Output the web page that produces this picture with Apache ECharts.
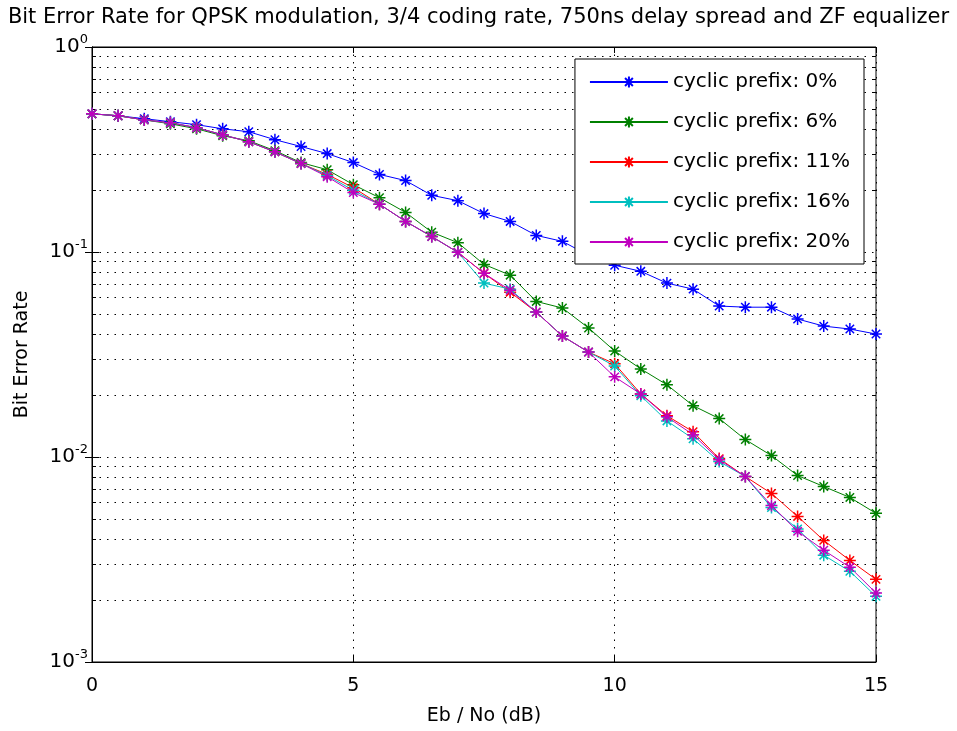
<!DOCTYPE html>
<html>
<head>
<meta charset="utf-8">
<script src="https://cdn.jsdelivr.net/npm/echarts@6/dist/echarts.min.js"></script>
<style>html,body{margin:0;padding:0;background:#fff;}#main{width:957px;height:731px;}</style>
</head>
<body>
<div id="main"></div>
<script>
const ebno = [0,0.5,1,1.5,2,2.5,3,3.5,4,4.5,5,5.5,6,6.5,7,7.5,8,8.5,9,9.5,10,10.5,11,11.5,12,12.5,13,13.5,14,14.5,15];
const cp0  = [0.472,0.462,0.447,0.432,0.418,0.399,0.386,0.353,0.327,0.302,0.273,0.239,0.223,0.189,0.178,0.154,0.141,0.1205,0.1127,0.0964,0.0862,0.0805,0.0705,0.0659,0.0545,0.0538,0.0538,0.0471,0.0435,0.0421,0.0398];
const cp6  = [0.472,0.462,0.441,0.422,0.399,0.369,0.349,0.312,0.273,0.252,0.213,0.184,0.156,0.125,0.111,0.087,0.0771,0.0574,0.0533,0.0426,0.0329,0.0269,0.0225,0.0178,0.0154,0.01216,0.01016,0.00812,0.00718,0.00635,0.00531];
const cp11 = [0.472,0.462,0.441,0.427,0.404,0.373,0.345,0.308,0.270,0.239,0.206,0.171,0.141,0.119,0.0996,0.0787,0.0637,0.0509,0.0389,0.0325,0.0285,0.0203,0.0159,0.01328,0.00982,0.00803,0.00664,0.00513,0.00392,0.00313,0.00253];
const cp16 = [0.472,0.462,0.441,0.427,0.404,0.373,0.345,0.308,0.270,0.236,0.200,0.171,0.141,0.119,0.0996,0.0705,0.0659,0.0509,0.0389,0.0325,0.0278,0.0199,0.0150,0.01228,0.0095,0.00803,0.00567,0.00446,0.00332,0.00277,0.00209];
const cp20 = [0.472,0.462,0.441,0.427,0.404,0.373,0.345,0.308,0.270,0.233,0.195,0.171,0.141,0.119,0.0996,0.0787,0.0651,0.0509,0.0389,0.0325,0.0246,0.0203,0.0157,0.01285,0.0097,0.00803,0.00580,0.00434,0.00351,0.00290,0.00217];
const seriesNames = ['cyclic prefix: 0%','cyclic prefix: 6%','cyclic prefix: 11%','cyclic prefix: 16%','cyclic prefix: 20%'];
const seriesColors = ['#0000ff','#008000','#ff0000','#00bfbf','#bf00bf'];
const yDecades = [0.001,0.01,0.1];
const minorMult = [2,3,4,5,6,7,8,9];

const FONT = 'DejaVu Sans';
const star = 'path://M0,-6L0,6M-6,0L6,0M-4.2,-4.2L4.2,4.2M-4.2,4.2L4.2,-4.2';
const allSeries = [cp0,cp6,cp11,cp16,cp20];

const minorVals = [];
yDecades.forEach(d => minorMult.forEach(m => minorVals.push([0, +(d*m).toPrecision(3)])));

const chart = echarts.init(document.getElementById('main'), null, {renderer:'canvas'});

const DASH = [1.5, 6];
const dotted = {color:'#000', width:1, type:DASH};

const series = allSeries.map((vals, i) => ({
  name: seriesNames[i],
  type: 'line',
  data: vals.map((v, k) => [ebno[k], v]),
  symbol: star,
  symbolSize: 12,
  showSymbol: true,
  lineStyle: {color: seriesColors[i], width: 1},
  itemStyle: {color: seriesColors[i], borderColor: seriesColors[i], borderWidth: 1.5},
  z: 3,
  animation: false
}));

series.push({
  name: 'minor',
  type: 'custom',
  coordinateSystem: 'cartesian2d',
  data: minorVals,
  z: 1,
  silent: true,
  animation: false,
  renderItem: function (params, api) {
    const cs = params.coordSys;
    const y = Math.round(api.coord([0, api.value(1)])[1]) + 0.5;
    const x0 = cs.x, x1 = cs.x + cs.width;
    return {
      type: 'group',
      children: [
        {type:'line', shape:{x1:x0, y1:y, x2:x1, y2:y}, style:{stroke:'#000', lineWidth:1, lineDash:DASH}},
        {type:'line', shape:{x1:x0, y1:y, x2:x0+4, y2:y}, style:{stroke:'#000', lineWidth:1}},
        {type:'line', shape:{x1:x1-4, y1:y, x2:x1, y2:y}, style:{stroke:'#000', lineWidth:1}}
      ]
    };
  }
});

const option = {
  backgroundColor: '#fff',
  animation: false,
  title: {
    text: 'Bit Error Rate for QPSK modulation, 3/4 coding rate, 750ns delay spread and ZF equalizer',
    left: 'center', top: 2,
    textStyle: {fontFamily: FONT, fontSize: 21, fontWeight: 'normal', color: '#000'}
  },
  legend: {
    data: seriesNames,
    orient: 'vertical',
    right: 93, top: 59,
    backgroundColor: '#fff',
    borderColor: '#000', borderWidth: 1,
    padding: [13, 14, 12, 14],
    itemWidth: 78, itemHeight: 14, itemGap: 20,
    textStyle: {fontFamily: FONT, fontSize: 20, color: '#000'}
  },
  grid: {left: 92, right: 81, top: 47, bottom: 67, show: true, borderColor: '#000', borderWidth: 1, backgroundColor: 'transparent'},
  xAxis: [{
    type: 'value', min: 0, max: 15, interval: 5,
    name: 'Eb / No (dB)', nameLocation: 'middle', nameGap: 45,
    nameTextStyle: {fontFamily: FONT, fontSize: 19, color: '#000'},
    axisLine: {show: true, lineStyle: {color: '#000'}},
    axisTick: {show: true, inside: true, length: 6, lineStyle: {color: '#000'}},
    axisLabel: {fontFamily: FONT, fontSize: 19, color: '#000', margin: 15},
    splitLine: {show: true, lineStyle: dotted}
  }, {
    type: 'value', min: 0, max: 15, interval: 5, position: 'top',
    axisLine: {show: true, lineStyle: {color: '#000'}},
    axisTick: {show: true, inside: true, length: 6, lineStyle: {color: '#000'}},
    axisLabel: {show: false}, splitLine: {show: false}
  }],
  yAxis: [{
    type: 'log', logBase: 10, min: 0.001, max: 1,
    name: 'Bit Error Rate', nameLocation: 'middle', nameGap: 60,
    nameTextStyle: {fontFamily: FONT, fontSize: 19, color: '#000'},
    axisLine: {show: true, lineStyle: {color: '#000'}},
    axisTick: {show: true, inside: true, length: 7, lineStyle: {color: '#000'}},
    axisLabel: {
      margin: 4,
      formatter: function (v) { const e = Math.round(Math.log10(v)); return '{b|10}{s|' + e + '}'; },
      rich: {
        b: {fontFamily: FONT, fontSize: 20, color: '#000'},
        s: {fontFamily: FONT, fontSize: 13, color: '#000', padding: [0, 0, 15, 0]}
      }
    },
    splitLine: {show: true, lineStyle: dotted}
  }, {
    type: 'log', logBase: 10, min: 0.001, max: 1, position: 'right',
    axisLine: {show: true, lineStyle: {color: '#000'}},
    axisTick: {show: true, inside: true, length: 7, lineStyle: {color: '#000'}},
    axisLabel: {show: false}, splitLine: {show: false}
  }],
  series: series
};
chart.setOption(option);
</script>
</body>
</html>
